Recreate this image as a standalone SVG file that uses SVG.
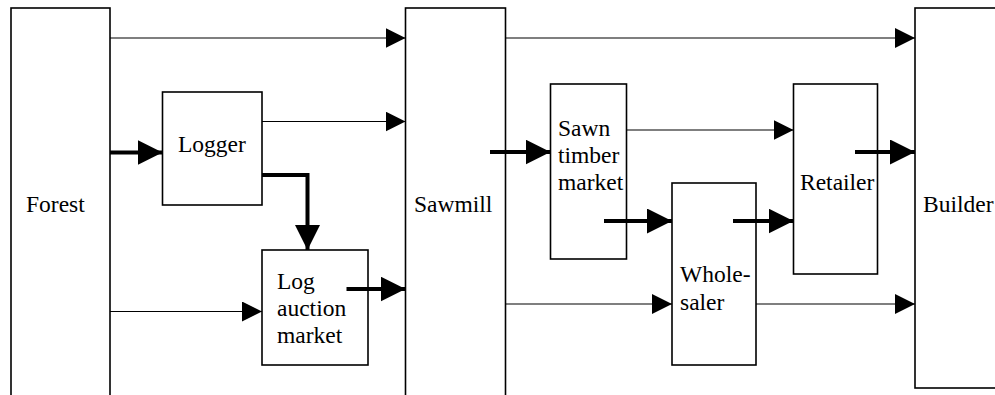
<svg xmlns="http://www.w3.org/2000/svg" width="995" height="395" viewBox="0 0 995 395">
<style>
.box{fill:#fff;stroke:#000;stroke-width:1.6}
.lbl{font-family:'Liberation Serif','Times New Roman','DejaVu Serif',serif;font-size:23.5px;fill:#000}
.thin{fill:none;stroke:#000;stroke-width:1.2}
.thick{fill:none;stroke:#000;stroke-width:4}
</style>
<defs>
<marker id="ah" markerUnits="userSpaceOnUse" markerWidth="20" markerHeight="20" refX="20" refY="10" orient="auto">
<path d="M0,0 L20,10 L0,20 Z" fill="#000"/>
</marker>
<marker id="ahb" markerUnits="userSpaceOnUse" markerWidth="25" markerHeight="25" refX="25" refY="12.5" orient="auto">
<path d="M0,0 L25,12.5 L0,25 Z" fill="#000"/>
</marker>
</defs>
<rect width="995" height="395" fill="#fff"/>
<g font-family="Liberation Serif, Times New Roman, serif">
<g id="forest"><rect class="box" x="11" y="8" width="99" height="420"/><text class="lbl" x="26" y="212">Forest</text></g>
<g id="sawmill"><rect class="box" x="405.5" y="8" width="100" height="420"/><text class="lbl" x="414" y="212">Sawmill</text></g>
<g id="builder"><rect class="box" x="915" y="8" width="120" height="380"/><text class="lbl" x="923" y="212">Builder</text></g>
<g id="logger"><rect class="box" x="162.5" y="92" width="99.5" height="113"/><text class="lbl" x="178" y="152">Logger</text></g>
<g id="log-auction"><rect class="box" x="262" y="250" width="106" height="115"/><text class="lbl"><tspan x="277" y="289">Log</tspan><tspan x="277" y="316">auction</tspan><tspan x="277" y="343">market</tspan></text></g>
<g id="sawn-timber"><rect class="box" x="550.5" y="84" width="76" height="175"/><text class="lbl"><tspan x="558" y="136">Sawn</tspan><tspan x="558" y="163">timber</tspan><tspan x="558" y="190">market</tspan></text></g>
<g id="retailer"><rect class="box" x="793.5" y="84" width="84" height="190"/><text class="lbl" x="800" y="190">Retailer</text></g>
<g id="wholesaler"><rect class="box" x="672" y="183" width="84" height="182"/><text class="lbl"><tspan x="680" y="282">Whole-</tspan><tspan x="680" y="310">saler</tspan></text></g>
</g>
<g id="connectors">
<path class="thin" d="M110,38 H405.5" marker-end="url(#ah)"/>
<path class="thick" d="M110,152.5 H162.5" marker-end="url(#ahb)"/>
<path class="thin" d="M262,121.5 H405.5" marker-end="url(#ah)"/>
<path class="thick" d="M262,175 H307.5 V250" marker-end="url(#ahb)"/>
<path class="thin" d="M110,311.5 H262" marker-end="url(#ah)"/>
<path class="thick" d="M346.5,289 H405.5" marker-end="url(#ahb)"/>
<path class="thin" d="M505.5,38 H915" marker-end="url(#ah)"/>
<path class="thick" d="M490,152 H550.5" marker-end="url(#ahb)"/>
<path class="thin" d="M626.5,130 H793.5" marker-end="url(#ah)"/>
<path class="thick" d="M604,221 H672" marker-end="url(#ahb)"/>
<path class="thick" d="M733,221 H793.5" marker-end="url(#ahb)"/>
<path class="thick" d="M855,152 H915" marker-end="url(#ahb)"/>
<path class="thin" d="M505.5,304 H672" marker-end="url(#ah)"/>
<path class="thin" d="M756,304 H915" marker-end="url(#ah)"/>
</g>
</svg>
